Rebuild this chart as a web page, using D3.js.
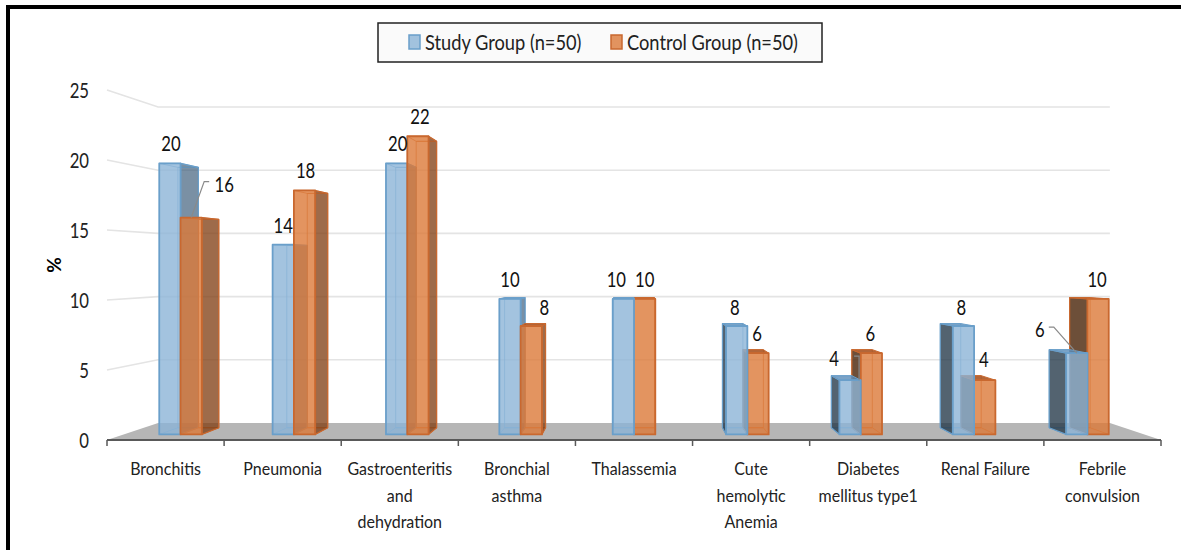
<!DOCTYPE html>
<html>
<head>
<meta charset="utf-8">
<script src="https://cdn.jsdelivr.net/npm/d3@7"></script>
<style>
body { margin: 0; background: #fff; }
text { font-family: Lato, "Open Sans", sans-serif; fill: #222; }
</style>
</head>
<body>
<div id="root"></div>
<script>
var categories = [
    ["Bronchitis"],
    ["Pneumonia"],
    ["Gastroenteritis", "and", "dehydration"],
    ["Bronchial", "asthma"],
    ["Thalassemia"],
    ["Cute", "hemolytic", "Anemia"],
    ["Diabetes", "mellitus type1"],
    ["Renal Failure"],
    ["Febrile", "convulsion"]
];
var studyValues = [20, 14, 20, 10, 10, 8, 4, 8, 6];
var controlValues = [16, 18, 22, 8, 10, 6, 6, 4, 10];
var yTicks = [0, 5, 10, 15, 20, 25];
var seriesNames = ["Study Group (n=50)", "Control Group (n=50)"];

// label nudges from the top centre of each bar, [dx, dy]
var studyLabelShift = [[1, -20], [0, -20], [1, -20], [0, -20], [-7, -20], [-2, -19], [-16, -22], [-2, -19], [-37, -24]];
var controlLabelShift = [[33, -34], [1, -20], [2, -20], [13, -19], [0, -20], [-1, -20], [-1, -20], [-1, -21], [-1, -20]];

var width = 1181,
    height = 550;

var x = d3.scaleBand()
    .domain(d3.range(categories.length))
    .range([107, 1161]);

var y = d3.scaleLinear()
    .domain([0, 25])
    .range([440, 90]);

// side by side bars inside one category
var inner = d3.scaleBand()
    .domain([0, 1])
    .range([-22, 22]);

// the picture is a perspective view, everything shrinks toward this point
var vp = [634, 265],
    depthBack = 0.903,
    depthBarFront = 0.968,
    depthBarBack = 0.93;

function project(px, py, s) {
    return [vp[0] + (px - vp[0]) * s, vp[1] + (py - vp[1]) * s];
}

function poly(points) {
    return points.join(" ");
}

var svg = d3.select("#root")
    .append("svg")
    .attr("width", width)
    .attr("height", height)
    .style("display", "block");

// page frame, only left and top show
svg.append("path")
    .attr("d", "M8,550V7H1181")
    .attr("fill", "none")
    .attr("stroke", "#000")
    .attr("stroke-width", 4);

// floor
svg.append("polygon")
    .attr("points", poly([
        project(x.range()[0], y(0), 1),
        project(x.range()[0], y(0), depthBack),
        project(x.range()[1], y(0), depthBack),
        project(x.range()[1], y(0), 1)
    ]))
    .attr("fill", "#b6b6b6");

// grid lines, left wall then back wall
var gridTicks = yTicks.filter(function (d) {
    return d > 0;
});
svg.selectAll(".grid")
    .data(gridTicks)
    .enter()
    .append("polyline")
    .attr("class", "grid")
    .attr("points", function (d) {
        return poly([
            project(x.range()[0], y(d), 1),
            project(x.range()[0], y(d), depthBack),
            project(x.range()[1], y(d), depthBack)
        ]);
    })
    .attr("fill", "none")
    .attr("stroke", "#e4e4e4")
    .attr("stroke-width", 1.6);

var palette = [{
    front: "rgba(140,180,215,0.8)",
    right: "rgba(50,85,115,0.65)",
    left: "rgba(35,55,72,0.78)",
    top: "rgba(90,140,185,0.8)",
    stroke: "#6a9fca"
}, {
    front: "rgba(220,121,56,0.8)",
    right: "rgba(127,60,17,0.76)",
    left: "rgba(85,50,25,0.86)",
    top: "rgba(170,85,35,0.9)",
    stroke: "#c9682f"
}];

function barFaces(i, s, value) {
    var x0 = x(i) + x.bandwidth() / 2 + inner(s),
        x1 = x0 + inner.bandwidth(),
        yTop = y(value),
        yBase = y(0),
        f = depthBarFront,
        b = depthBarBack;
    return {
        front: [project(x0, yTop, f), project(x1, yTop, f), project(x1, yBase, f), project(x0, yBase, f)],
        back: [project(x0, yTop, b), project(x1, yTop, b), project(x1, yBase, b), project(x0, yBase, b)],
        left: [project(x0, yTop, f), project(x0, yTop, b), project(x0, yBase, b), project(x0, yBase, f)],
        right: [project(x1, yTop, f), project(x1, yTop, b), project(x1, yBase, b), project(x1, yBase, f)],
        top: [project(x0, yTop, f), project(x0, yTop, b), project(x1, yTop, b), project(x1, yTop, f)],
        bottom: [project(x0, yBase, f), project(x0, yBase, b), project(x1, yBase, b), project(x1, yBase, f)]
    };
}

function drawBar(g, i, s, value) {
    var faces = barFaces(i, s, value),
        colors = palette[s],
        clear = "rgba(255,255,255,0)",
        order = [];
    var cx = x(i) + x.bandwidth() / 2 + inner(s) + inner.bandwidth() / 2;

    // far faces first so the see-through front sits on top
    order.push({ pts: faces.back, fill: clear, stroke: colors.stroke, sw: 0.7 });
    order.push({ pts: faces.bottom, fill: clear, stroke: colors.stroke, sw: 0.7 });
    if (cx < vp[0] - 12) {
        order.push({ pts: faces.right, fill: colors.right, stroke: colors.stroke, sw: 1.2 });
    } else if (cx > vp[0] + 12) {
        order.push({ pts: faces.left, fill: colors.left, stroke: colors.stroke, sw: 1.2 });
    }
    if (y(value) > vp[1]) {
        order.push({ pts: faces.top, fill: colors.top, stroke: colors.stroke, sw: 1 });
    } else {
        order.push({ pts: faces.top, fill: clear, stroke: colors.stroke, sw: 0.7 });
    }
    order.push({ pts: faces.front, fill: colors.front, stroke: colors.stroke, sw: 1.8 });

    g.selectAll("polygon")
        .data(order)
        .enter()
        .append("polygon")
        .attr("points", function (d) {
            return poly(d.pts);
        })
        .attr("fill", function (d) {
            return d.fill;
        })
        .attr("stroke", function (d) {
            return d.stroke;
        })
        .attr("stroke-width", function (d) {
            return d.sw;
        })
        .attr("stroke-linejoin", "round");
}

var bars = svg.append("g").attr("class", "bars");

categories.forEach(function (c, i) {
    var leftSide = x(i) + x.bandwidth() / 2 < vp[0];
    // right of the vanishing point the study bar is the nearer one
    var seq = leftSide ? [0, 1] : [1, 0];
    seq.forEach(function (s) {
        var value = s === 0 ? studyValues[i] : controlValues[i];
        drawBar(bars.append("g"), i, s, value);
    });
});

// x axis
svg.append("line")
    .attr("x1", x.range()[0])
    .attr("x2", x.range()[1])
    .attr("y1", y(0))
    .attr("y2", y(0))
    .attr("stroke", "#595959")
    .attr("stroke-width", 2);

var tickPos = d3.range(categories.length + 1).map(function (i) {
    return x.range()[0] + i * x.step();
});
svg.selectAll(".xtick")
    .data(tickPos)
    .enter()
    .append("line")
    .attr("class", "xtick")
    .attr("x1", function (d) {
        return d;
    })
    .attr("x2", function (d) {
        return d;
    })
    .attr("y1", y(0))
    .attr("y2", y(0) + 6)
    .attr("stroke", "#595959")
    .attr("stroke-width", 1.5);

// text in this chart is narrow, squeeze it a bit horizontally
function squeezed(sel, px, py, squeeze) {
    return sel.attr("transform", "translate(" + px + "," + py + ") scale(" + squeeze + ",1)");
}

yTicks.forEach(function (d) {
    squeezed(svg.append("text"), 89, y(d) + 8, 0.76)
        .attr("text-anchor", "end")
        .attr("font-size", 22)
        .text(d);
});

categories.forEach(function (lines, i) {
    lines.forEach(function (line, k) {
        squeezed(svg.append("text"), x(i) + x.bandwidth() / 2, 475 + k * 26.5, 0.89)
            .attr("text-anchor", "middle")
            .attr("font-size", 18)
            .text(line);
    });
});

svg.append("text")
    .attr("transform", "translate(61,265) rotate(-90)")
    .attr("text-anchor", "middle")
    .attr("font-size", 19)
    .attr("font-weight", 700)
    .style("fill", "#000")
    .text("%");

// data labels
function addLabel(i, s, value, shift) {
    var p = project(x(i) + x.bandwidth() / 2 + inner(s) + inner.bandwidth() / 2, y(value), depthBarFront);
    squeezed(svg.append("text"), p[0] + shift[0], p[1] + shift[1] + 8, 0.76)
        .attr("text-anchor", "middle")
        .attr("font-size", 22)
        .style("fill", "#111")
        .text(value);
}

categories.forEach(function (c, i) {
    addLabel(i, 0, studyValues[i], studyLabelShift[i]);
    addLabel(i, 1, controlValues[i], controlLabelShift[i]);
});

// leader lines for the three labels pushed off their bars
var leaders = [
    { i: 0, s: 1, value: controlValues[0], pts: [[0, 0], [13, -36], [18, -36]] },
    { i: 6, s: 0, value: studyValues[6], pts: [[9, 0], [9, -24], [4, -24]] },
    { i: 8, s: 0, value: studyValues[8], pts: [[0, 0], [-23, -26], [-28, -26]] }
];
svg.selectAll(".leader")
    .data(leaders)
    .enter()
    .append("polyline")
    .attr("class", "leader")
    .attr("points", function (d) {
        var p = project(x(d.i) + x.bandwidth() / 2 + inner(d.s) + inner.bandwidth() / 2, y(d.value), depthBarFront);
        return poly(d.pts.map(function (o) {
            return [p[0] + o[0], p[1] + o[1]];
        }));
    })
    .attr("fill", "none")
    .attr("stroke", "#8a8a8a")
    .attr("stroke-width", 1.2);

// legend
var legend = svg.append("g");
legend.append("rect")
    .attr("x", 378)
    .attr("y", 23)
    .attr("width", 444)
    .attr("height", 39)
    .attr("fill", "#fafafa")
    .attr("stroke", "#222")
    .attr("stroke-width", 1.5);

var legendX = [409, 611];
seriesNames.forEach(function (name, s) {
    legend.append("rect")
        .attr("x", legendX[s])
        .attr("y", 35)
        .attr("width", 11)
        .attr("height", 14)
        .attr("fill", palette[s].front)
        .attr("stroke", palette[s].stroke)
        .attr("stroke-width", 1.5);
    squeezed(legend.append("text"), legendX[s] + 16, 50, 0.83)
        .attr("font-size", 22)
        .text(name);
});
</script>
</body>
</html>
